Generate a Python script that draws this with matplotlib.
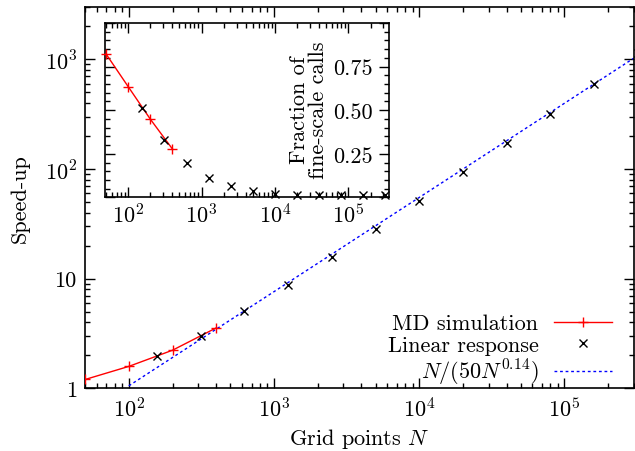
import math
import matplotlib
matplotlib.use('Agg')
import matplotlib.pyplot as plt
from matplotlib.ticker import FuncFormatter, LogLocator, MultipleLocator

plt.rcParams['font.family'] = ['cmr10', 'DejaVu Serif']
plt.rcParams['mathtext.fontset'] = 'cm'
plt.rcParams['axes.formatter.use_mathtext'] = True
plt.rcParams['font.size'] = 16

# MD simulation (speed-up and fraction of fine-scale calls)
md_N = [50, 100, 200, 400]
md_speedup = [1.2, 1.58, 2.22, 3.55]
md_frac = [0.822, 0.635, 0.449, 0.278]

# linear response
lr_N = [156, 312, 625, 1250, 2500, 5000, 10000, 20000, 40000, 80000, 160000, 320000]
lr_speedup = [1.96, 3.0, 5.05, 8.8, 15.9, 28.1, 51.4, 94, 171, 317, 601, 1150]
lr_frac = [0.512, 0.330, 0.198, 0.114, 0.064, 0.036, 0.022, 0.016, 0.014, 0.013, 0.013, 0.013]

# fit N/(50 N^0.14), read at a few grid sizes
fit_N = [100, 1000, 10000, 100000, 300000]
fit_val = [1.05, 7.6, 55, 398, 1026]

fig = plt.figure(figsize=(6.35, 4.52), dpi=100)
ax = fig.add_axes([0.134, 0.139, 0.864, 0.843])

ax.plot(md_N, md_speedup, color='red', marker='+', ms=7, lw=1, label='MD simulation', zorder=3)
ax.plot(lr_N, lr_speedup, ls='none', color='black', marker='x', ms=6, mew=1, label='Linear response', zorder=4)
ax.plot(fit_N, fit_val, color='blue', ls=(0, (2, 2)), lw=1, label=r'$N/(50N^{0.14})$', zorder=2)

ax.set_xscale('log')
ax.set_yscale('log')
ax.set_xlim(50, 3e5)
ax.set_ylim(1, 3000)
ax.set_xlabel(r'Grid points $N$', labelpad=4)
ax.set_ylabel('Speed-up', labelpad=11)


def ylab(v, pos):
    if v == 1:
        return '1'
    if v == 10:
        return '10'
    return r'$10^{%d}$' % int(round(math.log10(v)))


ax.yaxis.set_major_formatter(FuncFormatter(ylab))
ax.tick_params(which='both', direction='in', top=True, right=True, width=1)
ax.tick_params(which='major', length=7, pad=6)
ax.tick_params(which='minor', length=3.5)
for s in ax.spines.values():
    s.set_linewidth(1.2)

ax.legend(loc='lower right', bbox_to_anchor=(0.96, 0.002), frameon=False, markerfirst=False,
          handlelength=2.6, labelspacing=0.1, borderaxespad=0, borderpad=0, handletextpad=0.7)

# inset
ins = fig.add_axes([0.165, 0.561, 0.448, 0.386])
ins.plot(md_N, md_frac, color='red', marker='+', ms=7, lw=1, clip_on=False, zorder=3)
ins.plot(lr_N, lr_frac, ls='none', color='black', marker='x', ms=6, mew=1, clip_on=False, zorder=4)
ins.set_xscale('log')
ins.set_xlim(48, 3.6e5)
ins.set_ylim(0, 1)
ins.xaxis.set_major_locator(LogLocator(base=10, numticks=10))
ins.yaxis.set_major_locator(MultipleLocator(0.25))
ins.yaxis.set_minor_locator(MultipleLocator(0.05))
ins.yaxis.set_major_formatter(FuncFormatter(lambda v, p: '' if v in (0, 1) else '%.2f' % v))
ins.yaxis.tick_right()
ins.tick_params(which='both', direction='in', top=True, left=True, right=True, width=1)
ins.tick_params(which='major', length=7)
ins.tick_params(which='minor', length=3.5)
ins.tick_params(axis='y', which='major', pad=-12)
for t in ins.get_yticklabels():
    t.set_horizontalalignment('right')
for s in ins.spines.values():
    s.set_linewidth(1.2)
ins.text(0.717, 0.507, 'Fraction of\nfine-scale calls', transform=ins.transAxes,
         rotation=90, ha='center', va='center', multialignment='center', linespacing=1.0)

fig.savefig('out.png', dpi=100)
